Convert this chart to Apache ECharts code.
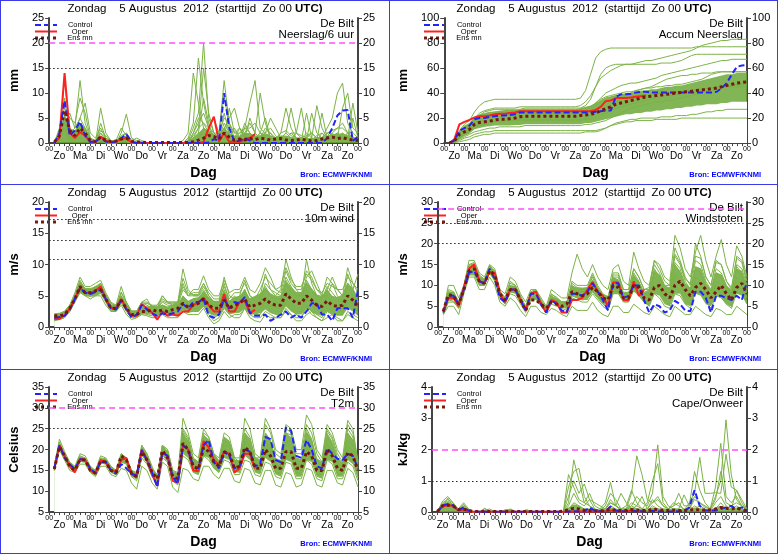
<!DOCTYPE html>
<html>
<head>
<meta charset="utf-8">
<title>Pluim De Bilt</title>
<script src="https://cdn.jsdelivr.net/npm/echarts@6.0.0/dist/echarts.min.js"></script>
<style>
body { margin:0; background:#fff; }
#wrap { position:relative; width:778px; height:554px; overflow:hidden; background:#fff; }
.pnl { position:absolute; width:389px; height:185px; }
.ln { position:absolute; background:#3a3ae6; }
</style>
</head>
<body>
<div id="wrap">
  <div class="pnl" id="p1" style="left:0;top:0"></div>
  <div class="pnl" id="p2" style="left:389px;top:0"></div>
  <div class="pnl" id="p3" style="left:0;top:184px"></div>
  <div class="pnl" id="p4" style="left:389px;top:184px"></div>
  <div class="pnl" id="p5" style="left:0;top:369px"></div>
  <div class="pnl" id="p6" style="left:389px;top:369px"></div>
  <div class="ln" style="left:0;top:0;width:778px;height:1px"></div>
  <div class="ln" style="left:0;top:184px;width:778px;height:1px"></div>
  <div class="ln" style="left:0;top:369px;width:778px;height:1px"></div>
  <div class="ln" style="left:0;top:553px;width:778px;height:1px"></div>
  <div class="ln" style="left:0;top:0;width:1px;height:554px"></div>
  <div class="ln" style="left:389px;top:0;width:1px;height:554px"></div>
  <div class="ln" style="left:777px;top:0;width:1px;height:554px"></div>
</div>
<script>
// tijdstappen (uur na Zo 00 UTC) en dagnamen
var hours = [6,12,18,24,30,36,42,48,54,60,66,72,78,84,90,96,102,108,114,120,126,132,138,144,150,156,162,168,174,180,186,192,198,204,210,216,222,228,234,240,246,252,258,264,270,276,282,288,294,300,306,312,318,324,330,336,342,348,354,360];
var dayNames = ['Zo','Ma','Di','Wo','Do','Vr','Za','Zo','Ma','Di','Wo','Do','Vr','Za','Zo'];

// ---- Neerslag/6 uur ----
var rainCtrl = [0,2,8.5,1.5, 2.5,4.3,1.5,0.2, 0.3,1.1,0.3,0.1, 0.3,1,1.8,0.3, 0,0,0,0, 0,0,0,0, 0,0,0,0, 0,0,0.1,0.8, 0.5,10,3,0.3, 0.5,1,0.5,0, 0,0,0,0, 0,0,0,0, 0,0,0,0, 0,1,3,5.5, 6.5,6.6,0.5,1.2];
var rainOper = [0,1,14,2, 1,2.2,1.5,0.3, 0.2,1.3,0.5,0.2, 0.3,0.8,1,0.1, 0,0,0,0, 0,0,0,0, 0,0,0,0, 0,0.2,3,5.3, 0.3,2,0.2,0.3, 0.2,0.8,1,1.8];
var rainMean = [0.2,1.5,6.5,2.5, 1.5,3,2,0.5, 0.3,1.2,0.6,0.3, 0.4,0.8,1,0.4, 0.2,0.2,0.1,0.1, 0.1,0.1,0.1,0.1, 0.1,0.1,0.1,0.3, 0.6,1,1.5,1.3, 0.8,2,1.2,0.6, 0.8,0.6,0.9,0.7, 1,0.8,0.6,0.8, 0.9,0.6,0.5,0.6, 0.8,0.6,0.4,0.5, 0.8,1,1.2,0.9, 1.1,0.8,0.6,0.5];
var rainHi = [0.2,2,6,3, 2.5,4,3,0.8, 0.4,1.5,0.8,0.3, 0.3,1,1.5,0.4, 0.2,0.2,0.1,0.1, 0.1,0.1,0.1,0.1, 0.1,0.2,0.5,1, 2,3,2.5,1.8, 1.5,3,2,1.5, 1.5,2,2,1.5, 1.5,1.8,1.5,1.2, 1.5,1.5,1.2,1, 1,1,1,1.2, 1.2,1.5,1.8,1.8, 2,1.5,1.2,1];
var rainMembers = [
  [0,2,12.5,3, 2,5,3,0.5, 0,2,0.5,0, 0,0.5,1,0, 0,0,0,0, 0,0,0,0, 0,0,0.5,3, 6,20,5,2, 1,4,2,1, 0.5,3,2,1, 2,1,0.5,1, 0.5,1,2,1, 0,0.5,1,0.5, 0.5,1,2,3, 4,2,1,0.5],
  [0,1,9,2, 3,12.5,4,1, 0.5,1,0,0, 0,2,5.8,1, 0.5,0.2,0,0, 0,0,0,0, 0,0,1,4, 17,8,3,1, 2,9.7,3,0.5, 1,2,4,2, 1,3,2,0.5, 1,2,1,0.5, 0,1,2,1, 1,3,5,10, 12,4,2,1],
  [0,3,7,5, 4,9,6,1, 0,7,2,0.5, 0,1,2,0.5, 1,0.5,0,0, 0,0,0,0, 0,0.5,2,14, 8,3,2,1, 1,3,5,7, 3,2,1,2, 10,4,1,0.5, 2,7,3,1, 1,0.5,6,2, 1,2,1,0.5, 1,2,1,0.5],
  [0,0.5,4,6, 3,5,8,2, 1,3,1,0.5, 0.5,3,1.5,0, 0,0,0,0, 0,0,0,0, 0,0,0,2, 4,6,3,5, 2,12.5,4,1, 2,3,8,12.5, 3,2,1,0.5, 0.5,1,0.5,2, 7,1,0.5,0.5, 2,1,0.5,0.5, 0.5,1,8,2],
  [0,2,5,1, 1,3,2,0.5, 0,1,0,0, 0,0.5,0.5,0, 0,0,0,0, 0,0,0,0, 0,0,0,1, 3,15,6,2, 1,2,1,3, 1,4,2,1, 2,5,1,0.5, 1,2,7,2, 1,0.5,0.5,0.5, 6,1,0.5,1, 2,1,0.5,0.5],
  [0,1,3,0.5, 2,4,1,0, 0,4,1,0, 0,1,0.5,0, 0,0,0,0, 0,0,0,0, 0,0,0,0, 1,2,1,0.5, 0.5,1,7,2, 3,1,5,2, 1,2,5,3, 1,0.5,1,0.5, 1,2,1,7.5, 3,1,0.5,1, 7,10,3,2],
  [0,1.5,2,1, 0.5,2,1.5,0, 0,0.5,0,0, 0,0.5,0.3,0, 0,0,0,0, 0,0,0,0, 0,0,1,1, 2,9,4,1, 0.5,1,0.5,0.5, 0.5,1,0.5,0.5, 0.3,1,0.5,0.3, 0.5,1,0.5,0.3, 0.5,6,1,0.5, 0.5,1,2,1, 1,2,1,0.5],
  [0,0.5,1,0.5, 0.5,1,0.5,0.2, 0,0.5,0,0, 0,0.3,0.3,0, 0,0,0,0, 0,0,0,0, 0,0,0,0.5, 1,3,2,1, 1,6,2,0.5, 0.5,2,1,0.5, 1,0.5,0.3,1, 0.5,0.5,1,0.3, 0.5,1,0.5,0.3, 0.5,0.5,1,2, 1,0.5,5,1],
  [0,1,4,2, 2,4,3,1, 0.5,2,1,0.3, 0.3,1.5,2,0.5, 0.2,0.3,0,0, 0,0,0,0, 0,0,0.3,1.5, 3,4,3,2, 2,5,4,2, 2,3,3,4, 2,1.5,2,1, 2,2.5,1.5,1, 1,1.5,2,1, 1,2,2.5,3, 3,2,1,0.5],
  [0,2.5,3,1, 1.5,3.5,2.5,0.5, 0.3,2.5,1.5,0.5, 0.5,1,1,0.3, 0.3,0.1,0,0, 0,0,0.2,0.1, 0,0,0.2,2, 5,4,2,1, 1.5,3,1.5,1, 3,1.5,1,1, 1.5,2,3,1.5, 0.5,1,2,2, 1.5,1,0.5,1.5, 2,1,1.5,2, 1,1.5,1,1]
];

// ---- Accum Neerslag ----
var accCtrl = [0,2,10,12, 14,19,20,20, 21,21.5,22,22, 22.5,23,24.5,24.5, 24.5,24.5,24.5,24.5, 24.5,24.5,24.5,24.5, 24.5,24.5,24.5,24.5, 24.5,25,25.5,26, 26,37,39,39, 39.5,40.5,41,41, 40.5,40.5,40.5,40.5, 40.5,40.5,40.5,40.5, 40.5,40.5,40.5,40.5, 40.5,41,44,48, 55,61,62,62.5];
var accOper = [0,3,15,17, 18.5,20.5,21.5,21.5, 22,23,23.5,23.5, 24,24.5,25.5,25.5, 25.5,25.5,25.5,25.5, 25.5,25.5,25.5,25.5, 25.5,25.5,25.5,25.5, 25.5,26.5,29,33.5, 34,36,36,36, 36.5,37,37.5,38];
var accMean = [0,1.5,7,9, 11,15,16.5,17, 17.5,18.5,19,19, 19.5,20,21,21.5, 21.5,21.5,21.5,21.5, 21.5,21.5,21.5,21.5, 21.5,21.5,22,22.5, 23,24,26,27.5, 29,31,32,33, 34,35,36,37, 37.5,38,38.5,39, 39.5,40,40.5,41, 41.5,42,42.5,43, 43.5,44,45,46, 47,48,48.5,49];
var accLo = [0,0.5,3,6, 8,11,12,13, 13.5,14,14,14, 14,14.5,14.5,15, 15,15,15,15, 15,15,15,15, 15,15,15,16, 16,17,18,19, 20,21,22,23, 23,24,24,25, 25,26,26,27, 27,28,28,29, 29,30,30,31, 31,31,32,32, 33,33,33,33];
var accHi = [0.5,3,10,14, 16,21,23,24, 25,25,26,26, 26,26,27,27, 27,27,27,27, 27,27,27,27, 27,27,28,29, 30,32,34,36, 37,38,39,40, 40,41,42,42, 43,43,44,45, 45,46,46,47, 48,49,50,51, 52,53,54,55, 55,56,56,56];
var accMembers = [
  [0,3,10,15, 18,25,30,33, 34,35,35,35, 35,35,35,35, 35,35,35,35, 35,35,35,35, 35,35,36,42, 55,68,73,75, 76,76,76,76, 76,76,76,76, 76,76,76,76, 76,76,76,76, 76,77,77,77, 77,77,77,77, 77,77,77,77],
  [0,2,8,12, 15,20,24,26, 27,28,28,28, 28,28,29,29, 29,29,29,29, 29,29,29,29, 29,29,30,33, 38,45,52,55, 58,60,62,63, 63,64,65,66, 66,67,68,69, 70,71,72,73, 74,76,78,79, 80,81,82,82, 83,83,83,83],
  [0,2,7,10, 13,18,22,25, 26,27,27,27, 27,27,27,28, 28,28,28,28, 28,28,28,28, 28,28,28,30, 35,45,55,60, 62,63,63,63, 63,63,63,63, 63,63,64,64, 64,65,66,68, 70,71,71,71, 71,71,71,71, 71,71,71,71],
  [0,1,5,8, 10,14,17,19, 20,21,22,22, 22,23,24,24, 24,24,24,24, 24,24,24,24, 24,24,25,26, 28,32,36,40, 42,44,46,47, 48,48,49,50, 51,52,54,55, 56,57,58,59, 60,61,62,63, 64,65,66,66, 67,67,67,67],
  [0,1,4,6, 8,12,14,15, 16,17,17,18, 18,18,19,19, 19,19,19,19, 19,19,19,19, 19,19,19,20, 21,23,25,27, 30,33,35,38, 40,42,43,44, 44,45,45,46, 46,47,47,48, 49,50,51,53, 55,56,57,57, 57,57,57,57],
  [0,1,3,5, 7,9,10,11, 12,12,13,13, 13,13,13,14, 14,14,14,14, 14,14,14,14, 14,14,14,15, 15,16,17,18, 20,22,24,26, 28,29,30,31, 32,33,33,34, 34,35,36,37, 38,39,40,41, 42,43,44,45, 46,46,47,47],
  [0,0.5,2,4, 5,7,8,9, 9,10,10,10, 10,10,10,10, 10,10,10,10, 10,10,10,10, 10,10,10,10, 10,10,11,12, 14,16,17,18, 19,19,20,20, 20,20,21,21, 21,22,22,22, 23,23,24,25, 25,26,26,27, 27,27,27,27],
  [0,0.5,1,2, 3,5,6,7, 7,8,8,8, 8,8,8,8, 8,8,8,8, 8,8,8,8, 8,8,8,9, 9,9,10,12, 14,15,16,17, 17,18,18,18, 18,19,19,19, 19,19,20,20, 20,20,20,20, 20,20,20,20, 20,20,20,20],
  [0,2,6,9, 11,16,19,21, 22,23,23,23, 23,23,24,24, 24,24,24,24, 24,24,24,24, 24,24,24,25, 26,30,34,36, 37,38,38,38, 38,38,39,39, 39,39,40,40, 40,41,41,42, 42,42,43,43, 44,44,45,45, 45,45,45,45],
  [0,1,4,7, 9,13,15,16, 17,17,18,18, 18,18,18,18, 18,18,18,18, 18,18,18,18, 18,18,18,19, 19,20,22,24, 26,28,29,30, 31,32,33,34, 35,36,37,38, 38,39,40,41, 42,43,43,44, 44,45,45,46, 46,47,47,47],
  [0,2,8,12, 14,18,21,23, 24,25,25,26, 26,26,26,27, 27,27,27,27, 27,27,27,27, 27,27,27,28, 29,32,35,37, 38,39,40,41, 41,42,43,44, 45,47,49,51, 52,53,54,54, 55,55,56,56, 56,57,57,57, 57,57,57,57]
];

// ---- 10m wind ----
var windCtrl = [1.5,1.6,1.8,2.8, 4.5,6.2,5.5,5.3, 5.6,6,4.5,3, 2.8,4.3,2.8,1.5, 2,3.5,2.8,2.2, 1.8,2.2,2,2.2, 2.5,3.7,3,4, 4,4.5,1.8,1.5, 2,4.5,3,4, 3.8,4.8,2.3,1.8, 1.8,2,1,1.5, 2,2.5,1.5,2, 1.5,2.5,3.8,3.8, 2,2,1,3, 3,3,1.5,6];
var windOper = [1.3,1.3,1.9,3, 4.5,6.3,5.5,5.5, 5.8,6.5,4.5,3, 3,4.5,3,1.8, 1.8,3.7,3,2.3, 1.2,2.5,1.8,2, 1.8,2.5,2.5,3.5, 4,4.7,3.5,2.5, 2.5,5.3,2.5,2.5, 4,4.2,2.2,2.8];
var windMean = [1.8,1.8,2,3, 4.5,6.5,5.5,5.5, 5.8,6,4.5,3, 3,4.3,3,2, 2,2.5,2.5,2.8, 2.5,2.7,2.5,2.8, 3,3.8,3.2,3.5, 3.8,4.5,3.5,3, 3,4.3,3,3.5, 3.8,4.5,3.2,3.5, 3.8,4.5,3.8,3.5, 3.5,5.3,4.5,3.8, 3.8,5,4.3,3.5, 3.3,4.2,3.5,3.3, 3.5,5,4.3,3.3];
var windLo = [1.2,1.3,1.6,2.4, 4,5.5,5,4.8, 5,5.3,4,2.6, 2.5,3.7,2.5,1.6, 1.6,2,2,2, 1.8,2,1.8,2, 2,2.7,2.2,2.5, 2.5,3.2,2.2,1.8, 1.8,3,2,2.2, 2.3,3,2,2, 2.2,2.8,2.2,2, 2,3.3,2.5,2, 2,3,2.5,2, 1.8,2.5,2,1.8, 1.8,3,2.5,1.8];
var windHi = [2.2,2.3,2.6,3.6, 5.2,7.2,6.2,6.2, 6.5,6.8,5,3.6, 3.5,5,3.6,2.5, 2.5,3.3,3.3,3.4, 3.3,3.6,3.3,3.6, 3.8,5,4.2,4.6, 4.8,5.8,4.8,4.2, 4.2,5.8,4.2,4.8, 5,6,4.6,5, 5.4,6.3,5.4,5, 5,7.3,6.5,5.6, 5.6,7.2,6.2,5.2, 5,6,5,4.8, 5.2,7,6.2,4.8];
var windMembers = [
  [2,2,2.5,3.5, 5.5,8,6.5,6.5, 7,7.5,5.5,4, 3.5,6.5,4,2.5, 2.5,4,4.5,3, 3,5,4,3.5, 4,9.3,6,5, 5,6.5,5,4, 3.5,7,4,5, 4,6,4,3.5, 5,8.5,6,5, 6,10.8,8,6, 5,8,9,7, 5,5,7,5, 4,8.5,6,4],
  [1,1.2,1.5,2.5, 4,5.5,5,4.5, 5,5,3.5,2.5, 2.5,3.5,2,1.2, 1.5,2,1.8,1.5, 1.5,2,1.5,1.5, 1.5,2.5,2,2, 2,3,1.5,0.5, 1,2.5,1.5,2, 2,3,1.5,1, 0.8,2,1.5,1.5, 1.5,2.5,2,1, 1,2,2.5,1.5, 1,1.5,2,1, 1,2,1.5,1],
  [1.5,2,2.5,3, 5,6.5,6,6, 6.5,6.5,5,3.5, 3.5,5,3.5,2.5, 2.5,3.5,3,3, 3,4,3.5,3.5, 3.5,6,5,5.5, 5.5,7,5,4, 4,8,5,4.5, 5,7.5,5,4, 4.5,7,6,5.5, 5,8,6.5,5, 5,10.8,7,5, 4.5,6,8,6, 5,7,6,8.5],
  [1.2,1.5,2,2.5, 4.5,6,5.5,5, 5.5,6,4.5,3, 3,4.5,3,2, 2,3,3,2.5, 2.5,3,2.5,3, 3,4.5,3.5,4, 4,5,3,2.5, 2.5,5.5,3,3, 3,5,3,2.5, 3,4.5,3.5,3, 3,6,4,3, 3,6,4.5,3.5, 3,5,4,3, 3,5,4,3],
  [2,2,2.5,3.5, 5,7,6,6, 6,7,5,3.5, 3,5.5,4,2.5, 2.5,4,3.5,3, 3.5,4.5,4,4, 4,7,5,6, 6,8.2,6,5, 5,7.5,5.5,6, 6,8,6,5.5, 7,9.5,8,6, 5.5,9,7,6, 6,9,8,6, 5,8,7,6, 5,9.5,7,6],
  [1.5,1.8,2,3, 4.5,6.5,5.5,5.5, 6,6.5,4.5,3, 3,4,3,2, 2,3,2.5,2.5, 2,3,2.5,2.5, 2.5,4,3,3.5, 3.5,4.5,2.5,1.5, 2,4,2.5,2.5, 2.5,4,2.5,2, 2,3.5,2.5,2, 2,4,3,2, 1.5,3.5,2.5,2, 1.5,3,2.5,2, 2,4,3,2.5],
  [1.8,2,2.5,3.2, 5,7.5,6,6, 6.5,7,5,3.5, 3.5,5,3.5,2.5, 2.5,4,4,3.5, 3.5,5,4,4, 4,6.5,5,5, 5,6,4.5,3.5, 3.5,6,4,4, 4,5.5,4,3.5, 4,6,5,4, 4,7,5.5,4.5, 4,7.5,6,5, 4.5,6.5,5.5,4.5, 4,6.5,5,4],
  [1,1.5,1.8,2.5, 4,5.8,5,5, 5,5.5,4,2.5, 2.5,4,2.5,1.5, 1.5,2.5,2,1.8, 1.8,2.5,2,2, 2,3,2.5,2.5, 2.5,3.5,2,1, 1.5,3,2,1.5, 1.5,3,2,1.5, 1.5,2.5,2,1.5, 1.5,3,2,1.5, 1.5,3,2,1.5, 1,2.5,2,1.5, 1,2.5,2,1.5],
  [1.6,1.8,2.2,3.2, 4.8,6.8,5.8,5.8, 6,6.5,4.8,3.2, 3.2,4.8,3.2,2.2, 2.2,3.2,3.2,3.2, 3,3.5,3,3.2, 3.2,5,4,4.5, 4.5,5.5,4,3.5, 3.5,5.5,3.5,4.5, 4.5,6,4,4.5, 5,6.5,5,4.5, 4.5,7.5,6,5, 5,7,6,4.5, 4.5,6,4.5,4, 4.5,7,6,4],
  [1.3,1.4,1.7,2.7, 4.2,6,5.2,5.2, 5.5,5.8,4.2,2.8, 2.8,4,2.8,1.8, 1.8,2.5,2.5,2.2, 2.2,2.8,2.2,2.5, 2.5,3.5,2.8,3, 3,4,2.8,2.2, 2.2,4,2.5,2.8, 3,4.5,2.8,2.5, 2.8,4,3,2.5, 2.5,4.5,3.5,2.5, 2.5,4.5,3.5,2.8, 2.5,3.5,3,2.5, 2.5,4.5,3.5,2.2],
  [1.7,1.9,2.3,3.3, 5.2,7.2,6.2,6.2, 6.2,6.8,5.2,3.8, 3.4,5.6,3.8,2.6, 2.6,3.6,3.8,3.4, 3.2,4.2,3.8,3.8, 3.8,7.8,5.5,5.2, 5.2,7,5.5,4.5, 4.5,6.5,4.5,5.5, 5.5,7,5,4.5, 6,8,7,6, 6.5,9.5,7.5,6.5, 6.5,8.5,7.5,6, 5.5,7,6.5,6, 6,8,7,5.5]
];

// ---- Windstoten ----
var gustCtrl = [3.5,7.5,7.5,5.5, 9,13,13.5,11, 10.5,14,11.5,7, 6,9,9,6.5, 4,8,8,5.5, 3.5,6.5,5.5,4, 3.5,8,8,7.5, 8.5,10.5,8.5,6.5, 4,10.5,10.5,7, 7.5,10,10,6.5, 3.5,5.5,5,3.5, 4,6.3,5.5,4, 3.8,8.5,8.5,7, 3.5,7.5,7.5,7, 6.5,7.5,6.5,11];
var gustOper = [3.8,7,7,5, 9.5,14,15,11, 10.5,13.3,13,8, 6,9,9,6.5, 4,8,8.5,5.5, 3.5,6.5,6,3.5, 3.5,6.5,6.5,7, 9,10.8,8.5,7.5, 5,10.7,10.7,6.5, 6.5,11,7.5,9];
var gustMean = [3.8,7.8,7.5,5.5, 9,13.5,14,11, 10.5,13.5,12.5,8, 6.5,9,9,6.5, 4,6.5,6.5,5.5, 4.5,6,5.5,5, 5.5,8.5,8,7.5, 8,9.5,8.5,7, 6.5,10,9.5,7, 7,10,9.5,7, 6.5,9.5,10,8, 7,10,11,9, 7.5,9.5,10.5,9, 7,8.5,10,8, 6.5,9.5,10.5,8];
var gustLo = [3.3,6.5,6.5,4.6, 8.5,12.5,12.5,10, 9.8,12.8,11,7, 5.7,8.3,8,5.7, 3.6,6.3,6.5,5, 4,6,5.5,4.6, 4.5,7.5,7,6.5, 6.5,8.5,7,5.5, 5,8,8,6, 6,8.5,7.5,5.8, 5,8,7.5,5.5, 5,8,8,5.5, 5,8,7.5,5.5, 5,7.5,7,5.5, 4.8,8,7.5,5.5];
var gustHi = [4.3,8.5,8.5,6.2, 9.7,14.5,15,12.2, 11.5,14.5,13.5,8.8, 7.3,10,10,7.5, 4.8,8.3,8.5,6.5, 4.8,7.5,7,6.2, 6.3,10,9.5,9.5, 9.5,11.5,9.5,8, 7.5,12,11.5,8.5, 8.5,12.5,11,8.5, 9,13.5,12.5,10, 9.5,15,13.5,10.5, 9.5,14.5,14,10.5, 9,13,12.5,10, 9,14,13.5,10];
var gustMembers = [
  [4,10,10,7, 10,16,16,13, 12,15,14,9, 8,12,11,8, 6,9,9,7, 5,9,8,7, 7,13,17.5,14, 12,15,12,10, 9,14,15,11, 10,18,14,11, 10,16,15,12, 11,22,19,14, 12,18,22,16, 12,17,21,15, 12,19.5,17,12],
  [3,5,5,3, 8,12,12,9, 9,12,10,6, 5,7,6,4, 2.5,5,5,3.5, 3,4.5,4,3, 2.5,5,4,4, 4,6,4,3, 2.5,5,5,3.5, 3.5,5.5,4.5,3.5, 3,5,4,3, 2.5,5,4,3, 3,5,4,3, 2.5,4.5,4,3, 3,5,4,3],
  [4,8,8,5.5, 9.5,14.5,15,12, 11,14.5,13,8, 7,10,9.5,7, 4.5,8,8,6, 4,7,6.5,5.5, 5.5,10,9,9, 9,12,9,7, 6,12,12,8, 8,13,11,8, 8,14,12,9, 9,17,15,11, 9,16,15,11, 9,14,13,10, 8,15,14,10],
  [3.5,7,7,5, 9,13,13.5,11, 10.5,13.5,12,7.5, 6,9,9,6.5, 4,7.5,8,5.5, 4,6.5,6,5, 5,8.5,8,7.5, 8,10,8,6.5, 5,10,10,7, 7,11,9,7, 7,12,10.5,8, 7,13,11,8, 7,12,11,8, 7,11,10,8, 6.5,12,11,8],
  [4,9,8.5,6, 10,15,15.5,12.5, 11.5,14.5,13.5,8.5, 7,11,10,7.5, 5,8.5,9,6.5, 4.5,8,7,6, 6,11,10,10, 10,13,10,8, 7,13,13,9, 9,14,12,9, 9,15,13,10, 10,19,16,12, 10,20,17,12, 10,16,15,11, 9,17,16,11],
  [3,6,6,4.5, 8.5,12.5,12.5,10, 10,13,11,7, 5.5,8,7.5,5.5, 3.5,6.5,7,5, 3.5,5.5,5,4.5, 4,7,6.5,6, 6,8,6.5,5, 4,8,8,6, 6,9,7.5,6, 5.5,10,8.5,6.5, 5.5,10,9,6.5, 5.5,10,9,6.5, 5.5,9,8,6, 5,10,9,6],
  [3.5,8,7.5,5.5, 9,14,14,11.5, 11,14,12.5,8, 6.5,9.5,9,6.5, 4,8,8.5,6, 4.5,7.5,6.5,5.5, 5.5,9.5,8.5,8.5, 8.5,11,8.5,7, 6,11,11,8, 8,12,10,8, 7.5,13,11,8.5, 8,15,13,9, 8,14,13,9, 8,13,12,9, 7.5,14,12,9],
  [4,7.5,7,5, 9.5,13.5,14,11, 10.5,14,12.5,7.5, 6,9,8.5,6, 4,7,7.5,5.5, 4,7,6,5, 5,9,8,7, 7.5,9.5,7.5,6, 5.5,9,9,6.5, 6.5,10,8.5,6.5, 6,11,9.5,7, 6.5,12,10.5,7.5, 6.5,11,10,7.5, 6.5,10,9.5,7, 6,11,10,7],
  [3.6,7.2,7.2,5.2, 9.2,13.8,14.2,11.2, 10.8,13.8,12.8,8, 6.5,9.5,9.5,6.8, 4.2,7.8,8.2,6, 4.2,7,6.5,5.5, 5.5,9.5,9,8.5, 8.8,10.5,9,7.5, 6.5,11.5,11,8, 8,12.5,10.5,8, 8,13.5,12.5,9.5, 9,15.5,14,10, 8.5,14.5,14,10.5, 8.5,13,12.5,9.5, 8,14.5,13,9],
  [3.2,6.5,6.2,4.5, 8.8,12.8,13,10.5, 10.2,13.2,11.5,7.2, 5.8,8.5,8.2,6, 3.8,7,7.2,5.2, 3.8,6.2,5.8,4.8, 4.5,7.5,7,6.5, 6.8,8.5,7,5.5, 4.5,8.5,8.5,6.5, 6.5,9.5,8,6.5, 5,8,7,5, 4.5,8,7.5,5.5, 4.5,8.5,8,6, 4.5,7.5,7,5.5, 4.5,8.5,8,5.5],
  [3.8,8.5,8.2,5.8, 9.8,14.8,15.2,12.2, 11.2,14.8,13.2,8.2, 6.8,10.5,10,7.2, 4.8,8.2,8.8,6.2, 4.5,7.8,7.2,6, 6,10.5,9.5,9.2, 9.5,12.5,9.5,7.5, 6.5,12.5,12.5,9, 9,14,12,9, 9.5,16,14,11, 10,17.5,15.5,11.5, 10.5,17,16.5,12, 10,15.5,15,11, 9.5,16.5,15.5,10.5]
];

// ---- T2m ----
var tempCtrl = [15.5,21,18,16.5, 15.3,17.7,17.5,15.5, 14.3,17,17,15, 14.2,16.5,15.5,14.2, 13.8,19.8,17.5,14.5, 11,19.3,18.5,13.5, 11.8,21,20,16, 15.5,21,22.3,17, 15.5,19.5,18.5,15.5, 16,20,19.5,16, 16.5,23,22.5,17.5, 17,25.3,24.5,18.5, 18,22.3,20,16, 15.5,20.3,19,17.8, 17.5,19,18.5,15.5];
var tempOper = [15.3,21,18.5,16, 14.5,17.8,17.5,15, 14.3,17.5,17,15, 14.7,17.5,18,14, 13.5,20,17.5,14, 11.3,19.3,18.5,12.5, 12,21,20,15, 14.8,22,20.5,17.5, 16.3,19.5,19,14.5, 15.5,19,19,15.5];
var tempMean = [15.3,20.7,18.5,16, 15,17.6,17.5,15, 14.3,17.2,17,15, 14.5,18.5,17.5,14.3, 13.5,19.5,17.5,14.5, 13,19.8,18,13.5, 13,21.5,20,16, 15.3,20.5,19.5,17, 16,19.5,19,15.5, 16,20.5,19.5,15.5, 15.5,20,18.5,15.5, 15.5,19.5,19.5,15.5, 15.5,19.5,18.5,15, 15,20,18.5,15.5, 15,19.3,18.5,15];
var tempLo = [15,20.3,17.8,15.6, 14.6,17,16.9,14.6, 13.8,16.6,16.5,14.6, 13.8,17,16.5,13.6, 12.8,18.5,16.8,13.6, 12.2,18.5,17,12.8, 12,19,18,14.5, 14,18.5,18,15.5, 14.5,18,17.5,14.5, 14.5,18.5,17.5,14.5, 14,18,17,14, 13.5,17.5,17,13.5, 13.5,17.5,17,13.5, 13,17.5,17,13.5, 13.5,17.5,16.5,13];
var tempHi = [15.7,21.3,18.9,16.6, 15.6,18.3,18,15.6, 14.8,17.8,17.6,15.6, 15,19,18,15, 14.3,20.5,18.5,15.3, 13.8,21,19.5,14.5, 14.5,24,22,18, 17,23.5,22.5,19, 17.5,23,22,17.5, 17.5,24,22.5,18, 17.5,24,22.5,18, 17.5,24,23,18, 17.5,24.5,22.5,18, 17,24,22,18, 17,24,22.5,17];
var tempMembers = [
  [16,22.5,19.5,17, 16,19,18.5,16, 15,18.5,18,16, 15,19,18,15, 14,21,19,16, 13,21,20,15, 14,27.5,24,19, 18,25,23,19, 17,23,22,18, 17,27.5,25,19, 18,27.5,25,20, 19,26,25,20, 20,28.3,26,20, 18,26,24,20, 18,27,25,17],
  [15,20,17.5,15, 14.5,16.5,16.5,14.5, 13.5,16,16,14, 13.5,15.5,15,12, 10.5,16,15,12, 10.5,17,16,11, 9.7,15.5,15,13, 12.5,16,16,14, 13,15.5,15.5,12.5, 12,15.5,15,12, 11.5,15,15,11.5, 11,14.5,14,11, 11.5,15.5,15,11.5, 11,15,15,12, 11.5,15.5,14.5,11],
  [15.5,21.5,18.5,16.5, 15.5,18,17.8,15.5, 14.5,17.5,17.5,15.5, 15,18.5,17.5,14.5, 14,20,18,15, 13.5,20.5,19,14, 13.5,23,21,17, 16,22,21,18, 16.5,21,20.5,16.5, 16.5,23,21,17, 16.5,24,22,17, 17,22,22,17, 17,24,22,17, 16,23,21,17, 16,24,22,15.5],
  [15,20.5,18,16, 15,17.3,17.2,14.8, 14,17,17,15, 14,17.5,17,13.8, 13,19,17,14, 12,19,17.5,13, 12,20,19,15, 14.5,19.5,18.5,16, 15,18.5,18,15, 15,19,18.5,15, 14.5,19.5,18,14.5, 14,18,18,14, 14.5,19,18,14.5, 14,19,18,14, 14,18.5,17.5,13.5],
  [15.5,21,18.5,16, 15,17.8,17.5,15.2, 14.3,17.3,17.2,15.2, 14.5,18.8,17.8,14.8, 13.8,20.5,18.5,15, 13.5,21,19,14.5, 13,24,22,17, 16,23.5,22,18.5, 17,22.5,21,17, 17,22,21,17.5, 17,22,20,16.5, 16,21.5,21,16.5, 16.5,22.5,21,16, 15.5,21,20,16.5, 16,22,21,16],
  [15,20,17.5,15.5, 14.8,17.2,17,14.7, 13.8,16.8,16.5,14.5, 14,17,16.5,13.5, 12.5,18,16.5,13.5, 12,18,17,12.5, 11.5,18.5,17.5,14.5, 14,18.5,17.5,15.5, 14.5,17.5,17,14, 14,17.5,17,14, 13.5,17,16.5,13.5, 13,17,16.5,13, 13,17.5,16.5,13, 12.5,17.5,16.5,13, 13,17,16,12.5],
  [15.8,21.8,19,16.8, 15.8,18.5,18,15.8, 14.8,18,17.8,15.8, 15,19,18,15, 14.5,21,19,15.5, 14,21,20,15, 14.5,25,23,18, 17,24,23,19, 18,24,23,18, 18,25,23,18, 18,26,24,19, 18,25,24,19, 19,26,24,19, 17,25,23,19, 17,26,24,17],
  [15.2,20.3,18.2,15.8, 14.7,17.5,17.3,14.9, 14.1,17,16.8,14.8, 14.2,17.8,17,14, 13.3,19,17.5,14, 12.8,19.5,18,13.5, 12.5,21.5,20,16, 15,21,20,17, 15.5,20,19.5,15.5, 15.5,20.5,19.5,15.5, 15,20.5,19.5,15.5, 15,20,19.5,15, 15,20.5,19,15, 14.5,20,19,15, 15,20,19,14.5],
  [15.4,21.2,18.6,16.3, 15.2,17.9,17.7,15.3, 14.4,17.6,17.4,15.4, 14.8,18.2,17.6,14.6, 13.6,20.2,18.2,14.8, 13.2,20.2,18.8,14, 13.2,22.5,21,16.5, 15.8,22.5,21.5,18, 16.8,21.5,20.5,16, 16,21.5,20.5,16.5, 16,21,19.5,15.5, 15.5,21,20.5,16, 16,21.5,20,15.5, 15,21.5,20,16, 15.5,21,19.5,15],
  [15.1,20.6,18.3,15.9, 14.9,17.4,17.2,15, 14.2,17.1,16.9,15, 14.4,18,17.2,14.2, 13.4,19.2,17.2,14.2, 12.6,19,17.8,13.2, 12.8,20.5,19.5,15.5, 14.8,20,19.5,16.5, 15.5,19.5,19,15, 15,20,19,15, 15,19,18,14.5, 14.5,18.5,18.5,14.5, 14.5,19,17.5,14, 14,18.5,17.5,14.5, 14,18,17.5,13.5],
  [15.6,21.4,18.8,16.6, 15.6,18.2,17.9,15.6, 14.6,17.8,17.6,15.6, 15,18.5,17.8,15, 14,20.5,18.8,15.2, 13.8,20.8,19.5,14.6, 14,24.5,22.5,17.5, 16.5,22,21,17.5, 16,22,21.5,17.5, 17,24,22.5,18, 17.5,23.5,22,17.5, 17,24,23.5,18, 17.5,25,22.5,17.5, 16.5,24.5,22.5,18, 16.5,25,23,16.5],
  [15.2,20.8,18.3,16.2, 14.8,17.6,17.4,15.1, 14,17.3,17,14.9, 14.3,18.2,17.3,14.2, 13,19.8,17.8,14.3, 12.5,20,18.3,13.3, 12.2,22,20.5,16, 15.2,20.5,19.5,16.5, 15,20.5,19.5,15.5, 14.5,21,20,16, 15,21.5,20.5,16, 15.5,22,21,16.5, 16,21,19.5,15.5, 15,21,19.5,15.5, 14.5,20.5,19.5,14]
];

// ---- Cape/Onweer ----
var capeCtrl = [0,0.22,0.25,0.22, 0.05,0.15,0.05,0.02, 0.01,0.01,0.01,0.01, 0.01,0.01,0.01,0.01, 0.01,0.01,0.01,0.01, 0.01,0.01,0.01,0.01, 0.01,0.02,0.03,0.02, 0.02,0.15,0.05,0.03, 0.03,0.18,0.05,0.03, 0.03,0.05,0.03,0.03, 0.03,0.04,0.03,0.02, 0.02,0.02,0.03,0.02, 0.15,0.7,0.2,0.05, 0.05,0.05,0.1,0.15, 0.2,0.1,0.15,0.05];
var capeOper = [0,0.18,0.22,0.2, 0.05,0.08,0.02,0.01, 0.01,0.01,0.01,0.01, 0.01,0.01,0.01,0.01, 0.01,0.01,0.01,0.01, 0.01,0.01,0.01,0.01, 0.01,0.01,0.02,0.03, 0.02,0.03,0.02,0.02, 0.03,0.05,0.03,0.02, 0.03,0.04,0.03,0.02];
var capeMean = [0.02,0.2,0.22,0.2, 0.08,0.1,0.05,0.02, 0.02,0.02,0.02,0.02, 0.02,0.02,0.02,0.02, 0.02,0.02,0.02,0.02, 0.02,0.02,0.02,0.02, 0.03,0.08,0.12,0.1, 0.06,0.05,0.04,0.04, 0.05,0.08,0.06,0.05, 0.05,0.08,0.07,0.05, 0.05,0.08,0.08,0.06, 0.05,0.06,0.05,0.05, 0.06,0.08,0.07,0.06, 0.07,0.1,0.15,0.12, 0.1,0.12,0.08,0.05];
var capeHi = [0.02,0.25,0.32,0.25, 0.08,0.15,0.05,0.02, 0.02,0.04,0.03,0.02, 0.02,0.04,0.04,0.02, 0.02,0.03,0.02,0.01, 0.01,0.02,0.01,0.01, 0.02,0.15,0.25,0.2, 0.1,0.1,0.08,0.06, 0.08,0.15,0.1,0.08, 0.08,0.15,0.12,0.1, 0.08,0.15,0.12,0.1, 0.08,0.12,0.1,0.08, 0.08,0.15,0.12,0.1, 0.08,0.15,0.2,0.15, 0.1,0.15,0.1,0.06];
var capeMembers = [
  [0,0.35,0.5,0.3, 0.1,0.3,0.1,0, 0,0.05,0.1,0, 0,0.05,0.08,0, 0,0.05,0.03,0, 0,0.02,0.02,0, 0,0.3,1.67,1, 0.3,0.2,0.1,0.05, 0.1,0.3,0.2,0.1, 0.1,0.6,1.8,1.2, 0.4,0.3,0.5,0.2, 0.1,0.2,0.6,0.2, 0.2,1.3,0.7,0.3, 0.1,0.5,1,2.95, 1.2,0.4,0.2,0.1],
  [0,0.25,0.35,0.25, 0.05,0.2,0.05,0, 0,0.1,0.05,0, 0,0.08,0.05,0, 0,0.03,0.02,0, 0,0.02,0,0, 0,0.8,1.3,1.4, 0.5,0.2,0.05,0.1, 0.3,0.95,0.2,0.05, 0.1,0.2,0.5,0.3, 0.2,0.6,2.15,0.5, 0.2,0.1,0.1,0.05, 0.3,0.6,1.75,0.6, 0.6,0.62,0.6,1.85, 0.8,0.7,0.3,0.05],
  [0,0.2,0.3,0.2, 0.05,0.15,0.03,0, 0,0.02,0.03,0, 0,0.05,0.1,0, 0,0.08,0.02,0, 0,0.03,0,0, 0,0.5,1,0.6, 0.9,0.4,0.1,0.05, 0.2,0.6,0.4,0.1, 0.2,0.7,0.3,0.1, 0.3,1,1.55,0.3, 0.1,0.2,0.3,0.05, 0.1,0.5,0.3,0.2, 0.1,0.8,2.2,0.5, 0.3,0.5,0.2,0.1],
  [0,0.15,0.25,0.15, 0.03,0.1,0.02,0, 0,0.02,0,0, 0,0.02,0.02,0, 0,0.02,0,0, 0,0,0,0, 0,0.2,0.6,0.3, 0.2,0.4,0.3,0.2, 0.1,0.3,0.2,0.6, 0.3,0.1,0.2,0.5, 0.1,0.3,0.4,0.2, 0.1,0.05,0.1,0.55, 0.2,0.1,0.2,0.1, 0.05,0.3,0.5,0.2, 0.1,0.7,0.4,0.1],
  [0,0.3,0.4,0.3, 0.08,0.25,0.05,0, 0,0.03,0.02,0, 0,0.03,0.03,0, 0,0.02,0.02,0, 0,0.02,0,0, 0,0.1,0.3,0.2, 0.1,0.1,0.05,0.05, 0.05,0.2,0.1,0.05, 0.05,0.2,0.1,0.05, 0.05,0.2,0.1,0.05, 0.05,0.1,0.05,0.05, 0.05,0.2,0.1,0.05, 0.05,0.1,0.3,0.1, 0.05,0.2,0.1,0.05],
  [0,0.18,0.45,0.2, 0.05,0.12,0.05,0, 0,0.12,0.03,0, 0,0.03,0.06,0, 0,0.04,0.02,0, 0,0.03,0.01,0, 0,1.2,0.8,0.4, 0.3,0.6,0.2,0.1, 0.1,0.4,0.2,0.1, 0.1,0.3,0.2,0.1, 0.1,0.4,0.2,0.1, 0.1,0.3,0.2,0.1, 0.1,0.4,0.3,0.15, 0.1,0.4,1.3,0.3, 0.2,0.3,0.2,0.05]
];

var FONT = '"Liberation Sans", Arial, sans-serif';
var memberColor = '#7cb247';
var bandColor = 'rgba(108,168,56,0.85)';
var ctrlColor = '#2323ff';
var operColor = '#ff2020';
var meanColor = '#761a10';

function pairs(arr) {
	return arr.map(function(v, i) { return [hours[i], v]; });
}

function dayLabel(v) {
	if (v % 24 === 0) return '{h|00}';
	if (v % 24 === 12) return '{d|' + dayNames[(v - 12) / 24] + '}';
	return '';
}

function yAxisCfg(p, pos) {
	return {
		type: 'value', min: p.min, max: p.max, interval: p.step, position: pos,
		name: pos === 'left' ? p.unit : '', nameLocation: 'middle', nameGap: 19,
		nameTextStyle: { fontSize: 13, fontWeight: 'bold', color: '#000', fontFamily: FONT },
		axisLine: { show: true, lineStyle: { color: '#444', width: 2 } },
		axisTick: { show: true, length: 4, lineStyle: { color: '#444' } },
		axisLabel: { color: '#000', fontSize: 11, margin: 5, fontFamily: FONT },
		splitLine: { show: false }
	};
}

function makePanel(id, p) {
	var chart = echarts.init(document.getElementById(id));
	var series = [];
	// dichte kern van de pluim: groen vlak tot 'hi', wit weer weggehaald onder 'lo'
	series.push({ type: 'line', data: pairs(p.hi), symbol: 'none', silent: true,
		lineStyle: { opacity: 0 }, areaStyle: { color: bandColor, opacity: 1, origin: 'start' } });
	if (p.lo) {
		series.push({ type: 'line', data: pairs(p.lo), symbol: 'none', silent: true,
			lineStyle: { opacity: 0 }, areaStyle: { color: '#fff', opacity: 1, origin: 'start' } });
	}
	for (var k = 0; k < p.members.length; k++) {
		series.push({ type: 'line', data: pairs(p.members[k]), symbol: 'none', silent: true,
			lineStyle: { color: memberColor, width: 1 } });
	}
	var refs = p.refs.map(function(r) {
		return { yAxis: r.v, lineStyle: r.c === 'm'
			? { color: '#ff4dff', type: [6, 4], width: 1.5 }
			: { color: '#222', type: [1.5, 2.5], width: 1.2 } };
	});
	series.push({ type: 'line', data: pairs(p.oper), symbol: 'none', silent: true,
		lineStyle: { color: operColor, width: 2 } });
	series.push({ type: 'line', data: pairs(p.ctrl), symbol: 'none', silent: true,
		lineStyle: { color: ctrlColor, width: 2, type: [6, 3] } });
	series.push({ type: 'line', data: pairs(p.mean), symbol: 'none', silent: true,
		lineStyle: { color: meanColor, width: 3, type: [3, 3] },
		markLine: { silent: true, symbol: 'none', label: { show: false }, animation: false, data: refs } });

	var graphic = [
		{ type: 'text', x: 195, y: 9, style: { text: 'Zondag    5 Augustus  2012  (starttijd  Zo 00 {b|UTC)}',
			fontSize: 11.5, fontFamily: FONT, fill: '#000', align: 'center', verticalAlign: 'middle',
			rich: { b: { fontSize: 11.5, fontWeight: 'bold', fontFamily: FONT, fill: '#000' } } } },
		{ type: 'text', x: 354, y: 24, style: { text: 'De Bilt', fontSize: 11.5, fontFamily: FONT, fill: '#000', align: 'right', verticalAlign: 'middle' } },
		{ type: 'text', x: 354, y: 35, style: { text: p.label, fontSize: 11.5, fontFamily: FONT, fill: '#000', align: 'right', verticalAlign: 'middle' } },
		{ type: 'line', shape: { x1: 35, y1: 25, x2: 57, y2: 25 }, style: { stroke: ctrlColor, lineWidth: 2, lineDash: [6, 3] } },
		{ type: 'line', shape: { x1: 35, y1: 31.5, x2: 57, y2: 31.5 }, style: { stroke: operColor, lineWidth: 2 } },
		{ type: 'line', shape: { x1: 35, y1: 38, x2: 57, y2: 38 }, style: { stroke: meanColor, lineWidth: 3, lineDash: [3, 3] } },
		{ type: 'text', x: 80, y: 25, style: { text: 'Control', fontSize: 7.5, fontFamily: FONT, fill: '#000', align: 'center', verticalAlign: 'middle' } },
		{ type: 'text', x: 80, y: 31.5, style: { text: 'Oper', fontSize: 7.5, fontFamily: FONT, fill: '#000', align: 'center', verticalAlign: 'middle' } },
		{ type: 'text', x: 80, y: 38, style: { text: 'Ens mn', fontSize: 7.5, fontFamily: FONT, fill: '#000', align: 'center', verticalAlign: 'middle' } },
		{ type: 'text', x: 372, y: 175, style: { text: 'Bron: ECMWF/KNMI', fontSize: 7.5, fontWeight: 'bold', fontFamily: FONT, fill: '#0000ff', align: 'right', verticalAlign: 'middle' } }
	];

	chart.setOption({
		animation: false,
		grid: { left: 33, right: 31, top: 18, bottom: 29 },
		xAxis: {
			type: 'value', min: 0, max: 360, interval: 6,
			name: 'Dag', nameLocation: 'middle', nameGap: 13,
			nameTextStyle: { fontSize: 14, fontWeight: 'bold', color: '#000', fontFamily: FONT },
			axisLine: { lineStyle: { color: '#444', width: 2 } },
			axisTick: { length: 3, lineStyle: { color: '#444' } },
			splitLine: { show: false },
			axisLabel: { margin: 2, showMinLabel: true, showMaxLabel: true, formatter: dayLabel,
				rich: { h: { fontSize: 7, color: '#000', fontFamily: FONT },
					d: { fontSize: 10, color: '#000', fontFamily: FONT, padding: [6, 0, 0, 0] } } }
		},
		yAxis: [yAxisCfg(p, 'left'), yAxisCfg(p, 'right')],
		series: series,
		graphic: graphic
	});
}

makePanel('p1', { unit: 'mm', min: 0, max: 25, step: 5, label: 'Neerslag/6 uur',
	refs: [{ v: 20, c: 'm' }, { v: 15, c: 'k' }],
	ctrl: rainCtrl, oper: rainOper, mean: rainMean, lo: null, hi: rainHi, members: rainMembers });
makePanel('p2', { unit: 'mm', min: 0, max: 100, step: 20, label: 'Accum Neerslag',
	refs: [],
	ctrl: accCtrl, oper: accOper, mean: accMean, lo: accLo, hi: accHi, members: accMembers });
makePanel('p3', { unit: 'm/s', min: 0, max: 20, step: 5, label: '10m wind',
	refs: [{ v: 10.8, c: 'k' }, { v: 13.9, c: 'k' }, { v: 17.2, c: 'k' }],
	ctrl: windCtrl, oper: windOper, mean: windMean, lo: windLo, hi: windHi, members: windMembers });
makePanel('p4', { unit: 'm/s', min: 0, max: 30, step: 5, label: 'Windstoten',
	refs: [{ v: 28.5, c: 'm' }, { v: 25, c: 'k' }, { v: 20, c: 'k' }],
	ctrl: gustCtrl, oper: gustOper, mean: gustMean, lo: gustLo, hi: gustHi, members: gustMembers });
makePanel('p5', { unit: 'Celsius', min: 5, max: 35, step: 5, label: 'T2m',
	refs: [{ v: 30, c: 'm' }, { v: 25, c: 'k' }],
	ctrl: tempCtrl, oper: tempOper, mean: tempMean, lo: tempLo, hi: tempHi, members: tempMembers });
makePanel('p6', { unit: 'kJ/kg', min: 0, max: 4, step: 1, label: 'Cape/Onweer',
	refs: [{ v: 2, c: 'm' }, { v: 1, c: 'k' }],
	ctrl: capeCtrl, oper: capeOper, mean: capeMean, lo: null, hi: capeHi, members: capeMembers });
</script>
</body>
</html>
